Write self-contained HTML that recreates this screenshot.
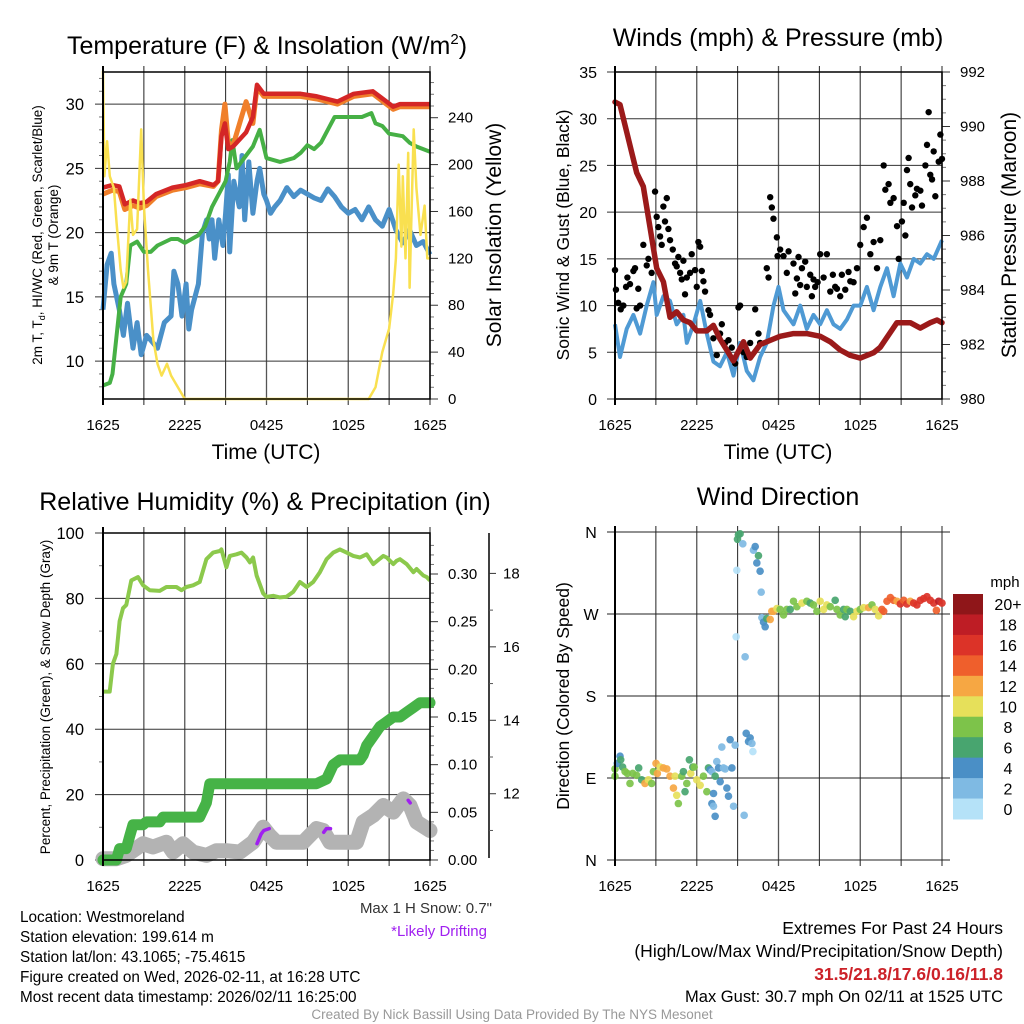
<!DOCTYPE html>
<html><head><meta charset="utf-8"><title>Mesonet Meteogram</title>
<style>
html,body{margin:0;padding:0;background:#fff;}
svg{display:block;font-family:"Liberation Sans",sans-serif;}
</style></head>
<body>
<svg id="fig" width="1024" height="1024" viewBox="0 0 1024 1024" xmlns="http://www.w3.org/2000/svg">
<rect x="0" y="0" width="1024" height="1024" fill="#fff"/>
<g id="layer"></g>
<!-- titles -->
<text x="267" y="54" font-size="25" text-anchor="middle">Temperature (F) &amp; Insolation (W/m<tspan font-size="15" dy="-10">2</tspan><tspan dy="10">)</tspan></text>
<text x="778" y="46" font-size="25" text-anchor="middle">Winds (mph) &amp; Pressure (mb)</text>
<text x="265" y="510" font-size="25" text-anchor="middle">Relative Humidity (%) &amp; Precipitation (in)</text>
<text x="778" y="505" font-size="25" text-anchor="middle">Wind Direction</text>
<!-- axis titles -->
<text x="266" y="459" font-size="21" text-anchor="middle">Time (UTC)</text>
<text x="778" y="459" font-size="21" text-anchor="middle">Time (UTC)</text>
<text transform="translate(42,235) rotate(-90)" font-size="13.5" text-anchor="middle">2m T, T<tspan font-size="9" dy="3">d</tspan><tspan dy="-3">, HI/WC (Red, Green, Scarlet/Blue)</tspan></text>
<text transform="translate(58,235) rotate(-90)" font-size="13.5" text-anchor="middle">&amp; 9m T (Orange)</text>
<text transform="translate(501,235) rotate(-90)" font-size="21" text-anchor="middle">Solar Insolation (Yellow)</text>
<text transform="translate(569,235) rotate(-90)" font-size="17.5" text-anchor="middle">Sonic Wind &amp; Gust (Blue, Black)</text>
<text transform="translate(1016,235) rotate(-90)" font-size="21" text-anchor="middle">Station Pressure (Maroon)</text>
<text transform="translate(50,697) rotate(-90)" font-size="13.5" text-anchor="middle">Percent, Precipitation (Green), &amp; Snow Depth (Gray)</text>
<text transform="translate(569,696) rotate(-90)" font-size="17.5" text-anchor="middle">Direction (Colored By Speed)</text>
<!-- colorbar labels -->
<text x="1005" y="587" font-size="15" text-anchor="middle">mph</text>
<!-- footer text -->
<text x="492" y="913" font-size="15" text-anchor="end" fill="#333">Max 1 H Snow: 0.7"</text>
<text x="487" y="936" font-size="15" text-anchor="end" fill="#a020f0">*Likely Drifting</text>
<g font-size="15.3" fill="#000">
<text x="20" y="922">Location: Westmoreland</text>
<text x="20" y="942">Station elevation: 199.614 m</text>
<text x="20" y="962">Station lat/lon: 43.1065; -75.4615</text>
<text x="20" y="982">Figure created on Wed, 2026-02-11, at 16:28 UTC</text>
<text x="20" y="1002">Most recent data timestamp: 2026/02/11 16:25:00</text>
</g>
<g font-size="17.5" text-anchor="end">
<text x="1003" y="934">Extremes For Past 24 Hours</text>
<text x="1003" y="957">(High/Low/Max Wind/Precipitation/Snow Depth)</text>
<text x="1003" y="980" fill="#cc2229" font-weight="bold">31.5/21.8/17.6/0.16/11.8</text>
<text x="1003" y="1002" font-size="16.5">Max Gust: 30.7 mph On 02/11 at 1525 UTC</text>
</g>
<text x="512" y="1019" font-size="13.5" text-anchor="middle" fill="#999">Created By Nick Bassill Using Data Provided By The NYS Mesonet</text>
</svg>
<script>
// ===== data =====
const xTickLabels = ['1625','2225','0425','1025','1625'];
// Temperature panel (hours since 1625 UTC)
const tempH   = [0,0.7,1.2,1.6,2.2,2.7,3.2,3.9,5.1,6.1,7.1,8.1,8.45,8.7,8.95,9.2,9.55,10.5,11.0,11.3,11.8,13.2,14.5,15.7,17.2,18.4,19.8,21.3,21.8,22.5,24];
const temp2m  = [23.5,23.7,23.6,22.2,22.5,22.3,22.4,23,23.5,23.7,24,23.7,24,27.5,28.5,26.5,26.7,27.8,29,31.5,30.8,30.8,30.8,30.6,30.2,30.8,31,29.8,30,30,30];
const temp9m  = [23,23.3,23.2,21.8,22.1,21.9,22.1,22.8,23.3,23.5,23.8,23.6,24,28,30,27,26.8,30.2,28.5,31.3,30.6,30.6,30.6,30.4,30.0,30.6,30.8,29.6,29.8,29.8,29.8];
const dewH    = [0,0.5,0.7,1,1.3,1.7,2,2.5,3,3.5,4,5,5.5,6,7,7.5,8,8.5,9,9.3,9.5,9.8,10.5,11,11.5,12,13,14,14.5,15,15.5,16,16.5,17,18,19,19.7,20,20.5,21,22,22.5,23,24];
const dewpt   = [8.1,8.3,9,12,15,16,19,19.3,18.5,18.5,19,19.5,19.5,19.2,19.8,20.5,22,23,24,25.5,27.2,25,26,26.7,28,25.8,25.5,25.8,26.2,26.8,26.5,27,28,29,29,29,29.3,28.5,28.3,27.7,27.5,27,26.7,26.3];
const wcH     = [0,0.3,0.6,0.8,1.2,1.5,1.8,2.2,2.5,2.8,3.2,3.6,4,4.5,5,5.2,5.5,5.8,6.1,6.3,6.5,7,7.3,7.6,7.8,8,8.2,8.5,8.8,9,9.2,9.3,9.6,10,10.2,10.4,10.7,11,11.3,11.5,11.8,12,12.3,12.6,13,13.5,14,14.5,15,15.5,16,16.5,17,17.5,18,18.5,19,19.5,20,20.5,21,21.5,22,22.5,23,23.5,24];
const windChill=[14,17.5,18.4,16,14,12,14.5,11,13,10.5,12,11.5,11,13,13.5,17,16,13.5,16,12.5,14,16,20,21,19.5,21,18,21,19,21.5,24.5,18.5,24,22,26,21,25.5,21.5,24,25,23,22.5,21.5,22,22.5,23.5,22.8,23.3,23,22.7,22.5,23.4,22.8,22,21.5,21.8,21,22,21,20.5,21.8,20.2,19.2,20.2,19,19.3,18.3];
const solarH  = [0,0.1,0.3,0.5,0.8,1,1.3,1.5,1.7,2,2.2,2.5,2.8,3,3.3,3.7,4,4.3,4.7,5,5.5,6,19.5,20,20.5,21,21.3,21.5,21.7,21.9,22,22.2,22.4,22.5,22.8,23,23.3,23.6,23.8,24];
const solar   = [280,190,220,190,180,150,110,95,100,170,140,145,230,165,110,50,30,20,30,20,10,0,0,10,40,60,90,120,200,130,190,120,210,95,230,180,140,165,120,120];
// Winds panel
const presH   = [0,0.37,0.86,1.59,2.08,2.57,3.06,3.55,4.04,4.53,5.02,5.51,6.0,6.74,7.22,7.71,8.69,9.43,9.92,10.65,11.63,12.12,13.1,14.08,15.06,15.8,16.53,17.27,18.0,18.98,19.47,20.69,21.67,22.41,23.14,23.63,24];
const pressure= [990.9,990.8,989.8,988.3,987.8,986.3,984.8,984.3,983,983.2,982.9,982.8,982.5,982.5,982.7,982.2,981.4,982.1,981.5,982,982.2,982.3,982.4,982.4,982.3,982.1,981.8,981.6,981.5,981.7,981.9,982.8,982.8,982.6,982.8,982.9,982.8];
const windH   = [0,0.37,0.86,1.35,1.84,2.33,2.82,3.06,3.55,4.04,4.53,5.02,5.27,5.76,6.25,6.74,7.22,7.71,8.21,8.7,9.18,9.67,10.16,10.65,11.14,11.63,12.0,12.37,13.1,13.59,14.08,14.57,15.06,15.55,16.04,16.53,17.02,17.51,18.0,18.49,18.98,19.47,19.96,20.45,20.94,21.43,21.92,22.41,22.9,23.39,24];
const windSpd = [8,4.5,7.5,9,7,10,12.5,9,11,10.5,8,9,6,8,10.5,7,4,3.5,5,2.5,6,3,2,4.5,6,10,12,9.5,8,10,7.5,9,8,9.5,8,7.5,8.5,10,10,12,9.5,12,14,11,14.5,13,15,14.5,15.5,15,17];
const gustH   = [0,0.07,0.24,0.42,0.61,0.81,0.91,1.10,1.35,1.47,1.59,1.71,1.84,2.08,2.33,2.45,2.69,2.94,3.06,3.18,3.31,3.43,3.55,3.67,3.80,3.92,4.04,4.24,4.41,4.53,4.65,4.78,4.90,5.02,5.14,5.27,5.51,5.63,5.88,6.00,6.12,6.25,6.37,6.49,6.61,6.86,6.98,7.22,7.47,7.71,7.84,8.08,8.33,8.57,8.82,9.06,9.18,9.43,9.67,9.92,10.29,10.53,10.65,11.14,11.27,11.39,11.51,11.63,11.88,11.93,12.12,12.37,12.61,12.74,13.10,13.23,13.35,13.47,13.59,13.72,13.96,14.08,14.33,14.45,14.57,14.69,14.87,15.06,15.31,15.55,15.80,15.99,16.16,16.29,16.53,16.65,16.90,17.14,17.27,17.51,17.76,18.00,18.25,18.49,18.74,18.98,19.23,19.47,19.72,19.84,20.08,20.21,20.45,20.70,20.82,21.06,21.19,21.31,21.43,21.55,21.67,21.80,22.04,22.16,22.41,22.53,22.78,22.90,23.02,23.14,23.27,23.39,23.51,23.76,23.88,24.0];
const gustSpd = [13.8,11.7,10.3,9.6,10,12,13,12.3,13.7,14,9.7,11.8,10,16.5,14.3,15,13.5,22.2,19.5,18.4,17.4,16.5,20.6,19,21.5,18.2,17,16,14.5,14.2,15.2,13.5,12.8,14.8,11.2,13,13.5,15.5,13.8,12,16.8,16.3,13.7,12.6,11.5,9.5,9,6.5,4.7,7,8,6,6.3,5.5,3.8,9.8,10,5,4.5,6,9.6,7,6,14,13,21.6,20.5,19.3,17.3,15.3,16,15.3,13.5,15.8,14.5,11.3,12.9,15.2,12.2,14,14.7,12,13.3,11,12.8,12,12.5,15.5,13,15.5,11.5,13.3,12,11.8,11,13.3,11.7,13.6,12.6,12.5,14,16.5,18.4,19.4,15.5,16.8,14,17,25,22.4,23,21,21.5,18.5,15,19,21,17.5,24.5,25.8,23,20.5,21.8,22.5,22.3,20.7,25,27.2,30.7,24,23.5,26.5,21.7,25.4,28.3,25.7];
// Humidity panel
const rhH     = [0,0.49,0.73,0.98,1.22,1.47,1.71,2.08,2.57,2.94,3.43,4.16,4.65,5.39,5.76,6.12,6.61,7.10,7.59,8.08,8.57,8.69,9.06,9.31,9.80,10.16,10.53,10.78,11.02,11.27,11.76,12.00,12.49,12.98,13.47,13.96,14.45,14.94,15.43,15.92,16.41,16.90,17.39,17.88,18.37,18.86,19.35,19.84,20.57,20.82,21.31,21.55,21.80,22.29,22.78,23.02,23.51,23.76,24];
const rh      = [51.5,51.5,60,63,73,77,78,85.5,86.5,84,82.5,82.3,83.5,83.5,82.5,83.5,84,85,92,94,94.5,95,89.5,93,93.5,94,92.5,91,92.5,87,81.5,80.5,80.8,80.3,80.5,82,85,83.5,85,88,92,94,95,94,93,92.5,93.5,90.5,93,92.5,90.5,91.5,92,90.5,88,89,87,86.5,85.5];
const precipH = [0,0.98,1.22,1.71,1.96,2.20,2.94,3.18,4.16,4.41,7.10,7.59,7.84,8.08,15.67,16.41,16.90,17.39,18.86,19.10,19.35,19.84,20.33,20.82,21.31,21.80,22.29,22.78,23.27,24];
const precip  = [0,0,0.012,0.012,0.025,0.037,0.037,0.04,0.04,0.045,0.045,0.06,0.08,0.08,0.08,0.085,0.1,0.105,0.105,0.11,0.12,0.13,0.14,0.145,0.15,0.15,0.155,0.16,0.165,0.165];
const snowH   = [0,0.98,1.71,2.94,3.67,4.65,5.14,5.88,6.61,7.59,8.33,9.06,10.04,11.02,11.76,12.24,12.73,14.69,15.67,16.16,16.65,18.61,19.10,19.84,20.57,21.31,22.04,22.53,23.02,24];
const snowDepth=[10.23,10.23,10.32,10.64,10.55,10.68,10.41,10.64,10.41,10.32,10.45,10.45,10.41,10.68,11.09,10.86,10.68,10.68,11.05,11.0,10.68,10.68,11.23,11.41,11.68,11.5,11.86,11.68,11.23,11.0];
const drift1H = [11.3,11.6,11.8,12.2], drift1D=[10.64,10.9,11.0,11.05];
const drift2H = [16.2,16.4,16.7], drift2D=[10.95,11.05,11.05];
const drift3H = [22.4,22.55], drift3D=[11.82,11.75];
// Direction panel
const dirH = [0,0,0.17,0.37,0.42,0.56,0.74,0.91,1.10,1.30,1.59,1.74,1.96,2.20,2.45,2.69,2.82,3.01,3.11,3.31,3.55,3.80,4.04,4.29,4.41,4.53,4.65,4.90,5.02,5.14,5.27,5.46,5.56,5.71,5.81,6.00,6.25,6.49,6.74,6.86,6.98,7.11,7.23,7.35,7.47,7.60,7.72,7.84,7.96,8.09,8.21,8.33,8.45,8.58,8.70,8.82,7.11,7.23,7.35,9.48,9.63,9.80,9.92,10.05,10.12,
  8.94,8.89,8.99,9.06,9.18,9.38,9.55,10.16,10.29,10.41,10.53,10.65,10.73,10.78,10.90,11.02,11.14,11.39,11.51,11.63,11.88,12.12,12.37,12.61,12.86,13.10,13.35,13.72,14.08,14.33,14.57,14.82,15.06,15.31,15.55,15.80,16.16,16.29,16.53,16.78,16.90,17.02,17.27,17.51,17.76,18.00,18.25,18.61,18.86,19.10,19.35,19.59,19.72,19.96,20.21,20.45,20.70,20.94,21.19,21.43,21.67,21.92,22.16,22.41,22.65,22.90,23.14,23.39,23.59,23.76,24.0];
const dirDeg = [100,92,106,114,110,102,97,95,84,95,93,101,88,84,88,84,97,106,95,102,101,100,92,79,92,71,62,92,97,75,84,110,95,102,102,88,82,92,75,101,99,97,73,92,108,101,86,124,101,100,79,70,132,101,59,126,62,59,48,49,139,130,134,128,119,
  318,245,352,357,358,347,223,340,344,326,334,317,294,266,261,256,265,264,273,273,276,275,269,275,275,284,278,282,284,282,280,273,284,275,280,278,285,275,269,275,267,275,273,267,273,275,277,277,280,275,268,275,273,284,288,285,284,281,285,281,284,282,280,285,287,289,285,282,274,284,282];
const dirSpd = [8,8,4,4,6,6,8,8,8,8,8,6,6,12,10,8,8,12,12,10,12,12,12,12,10,10,8,8,6,6,8,6,10,6,8,10,10,8,8,6,4,2,4,6,2,4,4,2,2,2,4,4,4,4,2,2,4,2,4,2,4,4,4,2,0,
  0,0,6,6,6,2,2,2,4,4,6,4,2,2,4,4,6,12,12,12,10,8,8,8,6,8,8,10,8,6,8,8,10,10,10,8,6,8,8,6,6,8,6,10,10,8,10,12,8,10,10,14,14,14,14,14,12,16,14,16,12,16,16,16,16,16,16,16,14,18,16];
const speedBins   = [0,2,4,6,8,10,12,14,16,18,20];
const speedLabels = ['0','2','4','6','8','10','12','14','16','18','20+'];
const speedColors = ['#b5e2f8','#7fbae3','#4a8fc6','#48a56f','#7dc34a','#e6e05a','#f6a743','#ef5f2c','#dc3328','#be1d25','#8f1619'];
// axis ticks
const tempTicks=[10,15,20,25,30], solarTicks=[0,40,80,120,160,200,240];
const windTicks=[0,5,10,15,20,25,30,35], presTicks=[980,982,984,986,988,990,992];
const rhTicks=[0,20,40,60,80,100], prTicks=[0,0.05,0.10,0.15,0.20,0.25,0.30], prLabels=['0.00','0.05','0.10','0.15','0.20','0.25','0.30'];
const sdTicks=[12,14,16,18];
const dirTicks=[0,90,180,270,360], dirLabels=['N','E','S','W','N'];

// ===== drawing =====
const NS='http://www.w3.org/2000/svg';
const layer=document.getElementById('layer');
function mk(tag,attrs,name,parent){
  const el=document.createElementNS(NS,tag);
  for(const k in attrs) el.setAttribute(k,attrs[k]);
  
  
  (parent||layer).appendChild(el);
  return el;
}
function lin(d0,d1,r0,r1){return v=>r0+(v-d0)/(d1-d0)*(r1-r0);}
function pathD(xs,ys,sx,sy){return xs.map((h,i)=>(i?'L':'M')+sx(h).toFixed(1)+','+sy(ys[i]).toFixed(1)).join('');}
function txt(x,y,s,size,anchor,name,fill){const t=mk('text',{x:x,y:y,'font-size':size,'text-anchor':anchor||'middle',fill:fill||'#000'},name);t.textContent=s;return t;}

function frame(P,name){
  const sx=lin(0,24,P.x0,P.x1);
  for(let i=0;i<=8;i++){
    const x=sx(i*3);
    mk('line',{x1:x,x2:x,y1:P.y0-6,y2:P.y1+6,stroke:i%2?'#222':'#555','stroke-width':i%2?1:1.3},name+'-x-grid');
  }
  xTickLabels.forEach((l,i)=>txt(sx(i*6),P.y1+31,l,15,'middle',name+'-x-tick-label'));
  return sx;
}

// Panel 1: temperature
(function(){
  const P={x0:103,x1:430,y0:72,y1:399};
  const sx=frame(P,'temperature');
  const sy=lin(7.05,32.5,P.y1,P.y0), sr=lin(0,279,P.y1,P.y0);
  tempTicks.forEach(v=>{mk('line',{x1:P.x0-8,x2:P.x1,y1:sy(v),y2:sy(v),stroke:'#333','stroke-width':1},'temperature-y-grid');txt(P.x0-19,sy(v)+6,String(v),16.5,'end','temperature-y-tick-label');});
  for(let v=8;v<=32;v++) if(v%5) mk('line',{x1:P.x0-4,x2:P.x0,y1:sy(v),y2:sy(v),stroke:'#777'},'temperature-minor-tick');
  solarTicks.forEach(v=>{mk('line',{x1:P.x1,x2:P.x1+8,y1:sr(v),y2:sr(v),stroke:'#333'},'solar-y-tick');txt(P.x1+18,sr(v)+5,String(v),15,'start','solar-y-tick-label');});
  for(let v=10;v<=270;v+=10) if(v%40) mk('line',{x1:P.x1,x2:P.x1+4,y1:sr(v),y2:sr(v),stroke:'#777'},'solar-minor-tick');
  mk('path',{d:pathD(wcH,windChill,sx,sy),fill:'none',stroke:'#4a90c8','stroke-width':5,'stroke-linejoin':'round'},'windchill-line');
  mk('path',{d:pathD(dewH,dewpt,sx,sy),fill:'none',stroke:'#46b045','stroke-width':4,'stroke-linejoin':'round'},'dewpoint-line');
  mk('path',{d:pathD(tempH,temp9m,sx,sy),fill:'none',stroke:'#f07f2a','stroke-width':5,'stroke-linejoin':'round'},'temp-9m-line');
  mk('path',{d:pathD(tempH,temp2m,sx,sy),fill:'none',stroke:'#d42626','stroke-width':4.5,'stroke-linejoin':'round'},'temp-2m-line');
  mk('path',{d:pathD(solarH,solar,sx,sr),fill:'none',stroke:'#f9e050','stroke-width':2.5,'stroke-linejoin':'round'},'solar-line');
  mk('rect',{x:P.x0,y:P.y0,width:P.x1-P.x0,height:P.y1-P.y0,fill:'none',stroke:'#000','stroke-width':1.5},'temperature-frame');
  mk('line',{x1:P.x0,x2:P.x0,y1:P.y0-6,y2:P.y1+6,stroke:'#000','stroke-width':2},'temperature-left-axis');
})();

// Panel 2: winds
(function(){
  const P={x0:615,x1:942,y0:72,y1:399};
  const sx=frame(P,'winds');
  const sy=lin(0,35,P.y1,P.y0), sp=lin(980,992,P.y1,P.y0);
  windTicks.forEach(v=>{mk('line',{x1:P.x0-8,x2:P.x1,y1:sy(v),y2:sy(v),stroke:'#333'},'wind-y-grid');txt(P.x0-18,sy(v)+6,String(v),16,'end','wind-y-tick-label');});
  presTicks.forEach(v=>{mk('line',{x1:P.x1,x2:P.x1+8,y1:sp(v),y2:sp(v),stroke:'#333'},'pressure-y-tick');txt(P.x1+18,sp(v)+5,String(v),15,'start','pressure-y-tick-label');});
  for(let v=980.5;v<992;v+=0.5) if(v%2) mk('line',{x1:P.x1,x2:P.x1+4,y1:sp(v),y2:sp(v),stroke:'#777'},'pressure-minor-tick');
  mk('path',{d:pathD(windH,windSpd,sx,sy),fill:'none',stroke:'#4f9ad4','stroke-width':4,'stroke-linejoin':'round'},'sonic-wind-line');
  gustH.forEach((h,i)=>mk('circle',{cx:sx(h),cy:sy(gustSpd[i]),r:3.2,fill:'#000'},'gust-point'));
  mk('path',{d:pathD(presH,pressure,sx,sp),fill:'none',stroke:'#9b1a1a','stroke-width':5.5,'stroke-linejoin':'round','stroke-linecap':'round'},'pressure-line');
  mk('rect',{x:P.x0,y:P.y0,width:P.x1-P.x0,height:P.y1-P.y0,fill:'none',stroke:'#000','stroke-width':1.5},'winds-frame');
  mk('line',{x1:P.x0,x2:P.x0,y1:P.y0-6,y2:P.y1+6,stroke:'#000','stroke-width':2},'winds-left-axis');
})();

// Panel 3: humidity
(function(){
  const P={x0:103,x1:430,y0:533,y1:860};
  const sx=frame(P,'humidity');
  const sy=lin(0,100,P.y1,P.y0), spr=lin(0,0.343,P.y1,P.y0), ssd=lin(10.25,19.1,858,533);
  rhTicks.forEach(v=>{mk('line',{x1:P.x0-8,x2:P.x1,y1:sy(v),y2:sy(v),stroke:'#333'},'humidity-y-grid');txt(P.x0-19,sy(v)+6,String(v),16.5,'end','humidity-y-tick-label');});
  for(let v=10;v<100;v+=20) mk('line',{x1:P.x0-4,x2:P.x0,y1:sy(v),y2:sy(v),stroke:'#777'},'humidity-minor-tick');
  prTicks.forEach((v,i)=>{mk('line',{x1:P.x1,x2:P.x1+8,y1:spr(v),y2:spr(v),stroke:'#333'},'precip-y-tick');txt(P.x1+18,spr(v)+5,prLabels[i],15,'start','precip-y-tick-label');});
  for(let v=0.01;v<0.34;v+=0.01) if(Math.round(v*100)%5) mk('line',{x1:P.x1,x2:P.x1+4,y1:spr(v),y2:spr(v),stroke:'#777'},'precip-minor-tick');
  mk('line',{x1:489,x2:489,y1:533,y2:858,stroke:'#000','stroke-width':1.5},'snow-depth-axis');
  sdTicks.forEach(v=>{mk('line',{x1:489,x2:496,y1:ssd(v),y2:ssd(v),stroke:'#333'},'snow-y-tick');txt(503,ssd(v)+5,String(v),15,'start','snow-y-tick-label');});
  for(let v=11;v<19;v+=2) mk('line',{x1:489,x2:493,y1:ssd(v),y2:ssd(v),stroke:'#555'},'snow-minor-tick');
  mk('path',{d:pathD(snowH,snowDepth,sx,ssd),fill:'none',stroke:'#b3b3b3','stroke-width':15,'stroke-linejoin':'round','stroke-linecap':'round'},'snow-depth-line');
  [[drift1H,drift1D],[drift2H,drift2D],[drift3H,drift3D]].forEach(a=>mk('path',{d:pathD(a[0],a[1],sx,ssd),fill:'none',stroke:'#a020f0','stroke-width':3.5,'stroke-linecap':'round','stroke-linejoin':'round'},'drifting-segment'));
  mk('path',{d:pathD(precipH,precip,sx,spr),fill:'none',stroke:'#46b347','stroke-width':11,'stroke-linejoin':'round','stroke-linecap':'round'},'precip-line');
  mk('path',{d:pathD(rhH,rh,sx,sy),fill:'none',stroke:'#8cc94c','stroke-width':4,'stroke-linejoin':'round'},'rh-line');
  mk('rect',{x:P.x0,y:P.y0,width:P.x1-P.x0,height:P.y1-P.y0,fill:'none',stroke:'#000','stroke-width':1.5},'humidity-frame');
  mk('line',{x1:P.x0,x2:P.x0,y1:P.y0-6,y2:P.y1+6,stroke:'#000','stroke-width':2},'humidity-left-axis');
})();

// Panel 4: direction
(function(){
  const P={x0:615,x1:942,y0:532,y1:860};
  const sx=frame(P,'direction');
  const sy=lin(0,360,P.y1,P.y0);
  dirTicks.forEach((v,i)=>{mk('line',{x1:P.x0-8,x2:P.x1+8,y1:sy(v),y2:sy(v),stroke:'#222'},'direction-y-grid');txt(591,sy(v)+6,dirLabels[i],16,'middle','direction-y-tick-label');});
  function col(s){let k=0;for(let j=0;j<speedBins.length;j++) if(s>=speedBins[j]) k=j;return speedColors[k];}
  dirH.forEach((h,i)=>mk('circle',{cx:sx(h),cy:sy(dirDeg[i]),r:3.8,fill:col(dirSpd[i]),'fill-opacity':0.92},'direction-point'));
  mk('line',{x1:P.x0,x2:P.x0,y1:P.y0-6,y2:P.y1+6,stroke:'#000','stroke-width':2},'direction-left-axis');
  const top=594,bot=819,n=speedColors.length,h=(bot-top)/n;
  for(let i=0;i<n;i++){
    const k=n-1-i;
    mk('rect',{x:953,y:top+i*h,width:30,height:h+0.5,fill:speedColors[k]},'colorbar-bin');
    txt(1008,top+i*h+h/2+6,speedLabels[k],16,'middle','colorbar-label');
  }
})();
</script>
</body></html>
